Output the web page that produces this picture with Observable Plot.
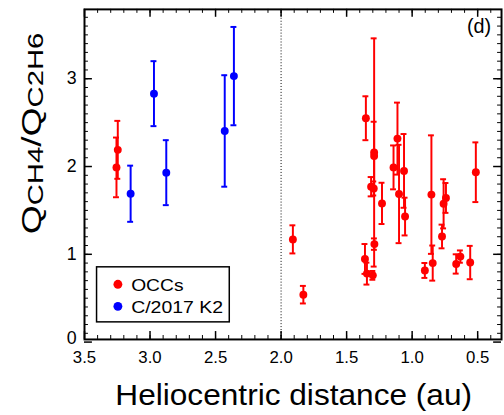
<!DOCTYPE html>
<html><head><meta charset="utf-8">
<script src="https://cdn.jsdelivr.net/npm/d3@7"></script>
<script src="https://cdn.jsdelivr.net/npm/@observablehq/plot@0.6"></script>
<style>
html,body{margin:0;padding:0;background:#fff;overflow:hidden;}
#chart{position:relative;width:504px;height:415px;overflow:hidden;}
svg text{font-family:"Liberation Sans",Arial,Helvetica,sans-serif;}
</style></head><body><div id="chart"></div>
<script>
// OCCs (red)
const occR = [3.246, 3.256, 1.91, 1.83, 1.353, 1.29, 1.29, 1.288, 1.313, 1.293, 1.23, 1.36, 1.345, 1.30, 1.142, 1.112, 1.10, 1.062, 1.054, 0.853, 0.843, 0.903, 0.772, 0.76, 0.742, 0.664, 0.632, 0.557, 0.514];
const occRatio = [2.19, 1.99, 1.17, 0.54, 2.55, 2.16, 2.12, 1.116, 1.77, 1.75, 1.58, 0.947, 0.78, 0.76, 1.99, 2.318, 1.687, 1.95, 1.43, 1.68, 0.90, 0.816, 1.203, 1.575, 1.642, 0.89, 0.974, 0.906, 1.935];
const occErr = [0.33, 0.34, 0.16, 0.10, 0.25, 1.30, 0.39, 0.065, 0.11, 0.08, 0.235, 0.17, 0.125, 0.05, 0.25, 0.41, 0.56, 0.42, 0.215, 0.675, 0.20, 0.085, 0.135, 0.28, 0.17, 0.11, 0.07, 0.19, 0.34];
// C/2017 K2 (blue)
const k2R = [3.148, 2.97, 2.876, 2.43, 2.36];
const k2Ratio = [1.69, 2.83, 1.93, 2.405, 3.03];
const k2Err = [0.32, 0.37, 0.37, 0.635, 0.56];
// axes
const xTicks = [3.5, 3.0, 2.5, 2.0, 1.5, 1.0, 0.5];
const yTicks = [0, 1, 2, 3];
const seriesNames = ["OCCs", "C/2017 K2"];
const seriesColors = ["#ff0000", "#0000ff"];
const xLabel = "Heliocentric distance (au)";
const panelLabel = "(d)";

const occ = occR.map((r, i) => ({r, v: occRatio[i], e: occErr[i]}));
const k2 = k2R.map((r, i) => ({r, v: k2Ratio[i], e: k2Err[i]}));

const W = 510, H = 415, mL = 85, mR = 3, mT = 9, mB = 72;
const innerW = W - mL - mR, innerH = H - mT - mB;
const xMinor = d3.range(35, 3, -1).map(d => d / 10);
const yMinor = d3.range(1, 38).map(d => d / 10);

function series(data, color) {
  return [
    Plot.ruleX(data, {x: "r", y1: d => d.v - d.e, y2: d => d.v + d.e, stroke: color, strokeWidth: 2}),
    Plot.ruleY(data, {y: d => d.v + d.e, x1: "r", x2: "r", insetLeft: -3, insetRight: -3, stroke: color, strokeWidth: 2}),
    Plot.ruleY(data, {y: d => d.v - d.e, x1: "r", x2: "r", insetLeft: -3, insetRight: -3, stroke: color, strokeWidth: 2}),
    Plot.dot(data, {x: "r", y: "v", r: 4, fill: color, stroke: "none"})
  ];
}

const plot = Plot.plot({
  width: W, height: H,
  marginLeft: mL, marginRight: mR, marginTop: mT, marginBottom: mB,
  style: {fontFamily: "Liberation Sans, Arial, sans-serif", background: "white", overflow: "visible"},
  x: {domain: [3.5, 0.318], axis: null},
  y: {domain: [0.03, 3.79], axis: null},
  marks: [
    Plot.ruleX([2.0], {stroke: "black", strokeWidth: 1, strokeDasharray: "1,2"}),
    ...series(occ, seriesColors[0]),
    ...series(k2, seriesColors[1]),
    // ticks (inward)
    Plot.ruleX(xMinor, {x: d => d, insetTop: innerH - 4, stroke: "black", strokeWidth: 1}),
    Plot.ruleX(xTicks, {x: d => d, insetTop: innerH - 8, stroke: "black", strokeWidth: 1.5}),
    Plot.ruleX(xMinor, {x: d => d, insetBottom: innerH - 4, stroke: "black", strokeWidth: 1}),
    Plot.ruleX(xTicks, {x: d => d, insetBottom: innerH - 8, stroke: "black", strokeWidth: 1.5}),
    Plot.ruleY(yMinor, {y: d => d, insetRight: innerW - 4, stroke: "black", strokeWidth: 1}),
    Plot.ruleY(yTicks, {y: d => d, insetRight: innerW - 8, stroke: "black", strokeWidth: 1.5}),
    Plot.ruleY(yMinor, {y: d => d, insetLeft: innerW - 4, stroke: "black", strokeWidth: 1}),
    Plot.ruleY(yTicks, {y: d => d, insetLeft: innerW - 8, stroke: "black", strokeWidth: 1.5}),
    Plot.frame({stroke: "black", strokeWidth: 2}),
    Plot.axisX(xTicks, {tickSize: 0, tickPadding: 12, tickFormat: d3.format(".1f"), fontSize: 17, label: null, fill: "black"}),
    Plot.axisY(yTicks.filter(d => d > 0), {tickSize: 0, tickPadding: 8, tickFormat: d3.format("d"), fontSize: 18, label: null, fill: "black"}),
    Plot.axisY(yTicks.filter(d => d === 0), {tickSize: 0, tickPadding: 8, tickFormat: d3.format("d"), fontSize: 18, label: null, fill: "black", dy: -4})
  ]
});
document.getElementById("chart").appendChild(plot);

const svg = d3.select(plot);
// x label
svg.append("text").attr("x", 116.7).attr("y", 410).attr("font-size", 29).attr("text-anchor", "start")
  .attr("textLength", 361).attr("lengthAdjust", "spacingAndGlyphs").attr("fill", "black").text(xLabel);
// y label with subscripts
const yl = svg.append("text").attr("transform", "translate(41,237) rotate(-90)").attr("font-size", 28).attr("fill", "black")
  .attr("text-anchor", "start").attr("textLength", 204).attr("lengthAdjust", "spacingAndGlyphs");
yl.append("tspan").text("Q");
yl.append("tspan").attr("font-size", 22).attr("dy", 3).text("CH4");
yl.append("tspan").attr("dy", -3).text("/Q");
yl.append("tspan").attr("font-size", 22).attr("dy", 3).text("C2H6");
// panel label
svg.append("text").attr("x", 497).attr("y", 33).attr("text-anchor", "end").attr("font-size", 20).attr("fill", "black").text(panelLabel);
// legend
svg.append("rect").attr("x", 97.7).attr("y", 270).attr("width", 134.3).attr("height", 55.7)
  .attr("fill", "white").attr("stroke", "black").attr("stroke-width", 1.5);
seriesNames.forEach((name, i) => {
  const cy = 287.7 + i * 22.3;
  svg.append("circle").attr("cx", 119.3).attr("cy", cy).attr("r", 4.5).attr("fill", seriesColors[i]);
  svg.append("text").attr("x", 132.7).attr("y", cy + 6.3).attr("font-size", 17).attr("fill", "black").attr("text-anchor", "start")
    .attr("textLength", i === 0 ? 53 : 93).attr("lengthAdjust", "spacingAndGlyphs").text(name);
});
</script></body></html>
